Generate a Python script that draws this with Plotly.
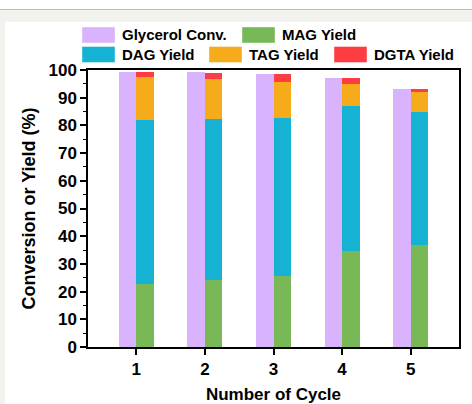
import numpy as np
import plotly.graph_objects as go

# Recycling results per cycle (%)
cycles = [1, 2, 3, 4, 5]
glycerol_conv = [99.3, 99.1, 98.7, 97.0, 93.1]
mag_yield = [22.6, 24.2, 25.6, 34.7, 36.7]
dag_yield = [59.3, 58.1, 57.2, 52.2, 48.2]
tag_yield = [15.5, 14.5, 13.0, 8.0, 7.0]
dgta_yield = [2.0, 2.2, 2.9, 2.1, 1.1]

names = ["Glycerol Conv.", "MAG Yield", "DAG Yield", "TAG Yield", "DGTA Yield"]
colors = ["#d9b3fd", "#78b857", "#16b2d3", "#f6ab1a", "#fd3d42"]

W, H = 472, 404
L, R, T, B = 88, 13, 70, 57
PW, PH = W - L - R, H - T - B

def px(x):
    return (x - L) / PW

def py(y):
    return (H - B - y) / PH

bar_w = 0.255
x = np.array(cycles, dtype=float)

fig = go.Figure()
fig.add_trace(go.Bar(x=x - bar_w / 2, y=glycerol_conv, width=bar_w, name=names[0],
                     marker=dict(color=colors[0], line=dict(width=0)), showlegend=False))
for vals, nm, col in zip([mag_yield, dag_yield, tag_yield, dgta_yield], names[1:], colors[1:]):
    fig.add_trace(go.Bar(x=x + bar_w / 2, y=vals, width=bar_w, name=nm,
                         marker=dict(color=col, line=dict(width=0)), showlegend=False))

shapes = [
    # page panels
    dict(type="rect", xref="paper", yref="paper", x0=px(5), x1=px(W + 2), y0=py(H + 2), y1=py(22),
         fillcolor="white", line=dict(width=0), layer="below"),
    dict(type="rect", xref="paper", yref="paper", x0=px(-2), x1=px(W + 2), y0=py(9), y1=py(-2),
         fillcolor="white", line=dict(width=0), layer="below"),
    dict(type="line", xref="paper", yref="paper", x0=px(-2), x1=px(W + 2), y0=py(9.5), y1=py(9.5),
         line=dict(color="#a9bfe6", width=1.2), layer="below"),
]

# legend swatches and labels
legend_items = [
    (0, 82, 27, 120), (1, 242, 27, 280),
    (2, 82, 46.5, 120), (3, 209, 46.5, 247), (4, 334, 46.5, 372),
]
annotations = []
for idx, sx, sy, tx in legend_items:
    shapes.append(dict(type="rect", xref="paper", yref="paper", x0=px(sx), x1=px(sx + 33),
                       y0=py(sy + 16), y1=py(sy), fillcolor=colors[idx],
                       line=dict(width=0.8, color="rgba(255,255,255,0.5)")))
    annotations.append(dict(xref="paper", yref="paper", x=px(tx), y=py(sy + 8), text=f"<b>{names[idx]}</b>",
                            showarrow=False, xanchor="left", yanchor="middle",
                            font=dict(size=15, color="black", family="Liberation Sans, Arial")))

fig.update_layout(
    width=W, height=H,
    margin=dict(l=L, r=R, t=T, b=B, pad=0, autoexpand=False),
    paper_bgcolor="#f2f2ee", plot_bgcolor="white",
    barmode="stack", bargap=0,
    font=dict(family="Liberation Sans, Arial", color="black"),
    shapes=shapes, annotations=annotations,
    xaxis=dict(range=[0.295, 5.705], tickvals=cycles, ticktext=[f"<b>{c}</b>" for c in cycles],
               ticks="outside", ticklen=6, tickwidth=1.5, tickcolor="black",
               showline=True, linecolor="black", linewidth=1.5, mirror=True, automargin=False,
               showgrid=False, zeroline=False, tickfont=dict(size=17),
               title=dict(text="<b>Number of Cycle</b>", font=dict(size=17), standoff=14)),
    yaxis=dict(range=[0, 100], tickvals=list(range(0, 101, 10)),
               ticktext=[f"<b>{v}</b>" for v in range(0, 101, 10)],
               ticks="outside", ticklen=6, tickwidth=1.5, tickcolor="black",
               minor=dict(dtick=5, ticks="outside", ticklen=3, tickwidth=1.2, tickcolor="black"),
               showline=True, linecolor="black", linewidth=1.5, mirror=True, automargin=False,
               showgrid=False, zeroline=False, tickfont=dict(size=17),
               title=dict(text="<b>Conversion or Yield (%)</b>", font=dict(size=18), standoff=8)),
)

fig.write_html("out.html")
